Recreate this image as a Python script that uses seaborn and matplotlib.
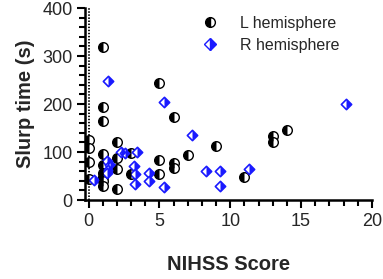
import numpy as np
import pandas as pd
import seaborn as sns
import matplotlib.pyplot as plt
from matplotlib.path import Path
from matplotlib.lines import Line2D
from matplotlib.ticker import MultipleLocator

# NIHSS score vs slurp time, per hemisphere
l_nihss = [0, 0, 0, 0, 1, 1, 1, 1, 1, 1, 1, 1, 1, 2, 2, 2, 2, 3, 3,
           5, 5, 5, 6, 6, 6, 7, 9, 11, 13, 13, 14]
l_slurp = [125, 109, 79, 43, 319, 194, 165, 95, 74, 56, 49, 40, 30, 121, 88, 65, 22, 99, 54,
           244, 84, 54, 173, 78, 67, 94, 112, 47, 133, 121, 145]
r_nihss = [0.4, 1.4, 1.3, 1.5, 1.4, 1.3, 2.3, 2.6, 3.4, 3.2, 3.3, 3.3,
           4.3, 4.3, 5.3, 5.3, 7.3, 8.3, 9.3, 9.3, 11.3, 18.2]
r_slurp = [42, 249, 81, 74, 63, 56, 101, 97, 101, 71, 54, 34,
           56, 40, 205, 27, 135, 60, 60, 30, 65, 200]

df = pd.concat([
    pd.DataFrame({"nihss": l_nihss, "slurp": l_slurp, "side": "L hemisphere"}),
    pd.DataFrame({"nihss": r_nihss, "slurp": r_slurp, "side": "R hemisphere"}),
])

sns.set_theme(style="ticks")
plt.rcParams["font.family"] = ["Liberation Sans", "DejaVu Sans"]

# half markers (one half filled, other half white)
circ_full = Path.unit_circle()
circ_half = Path.wedge(90, 270)
dia_full = Path([(0, 1), (1, 0), (0, -1), (-1, 0), (0, 1)], closed=True)
dia_half = Path([(0, 1), (1, 0), (0, -1), (0, 1)], closed=True)

fig = plt.figure(figsize=(3.83, 2.79), dpi=100)
ax = fig.add_axes([0.222, 0.283, 0.749, 0.688])

ax.axvline(0, color="black", ls=(0, (0.8, 0.9)), lw=1.3, zorder=1)

L = df[df.side == "L hemisphere"]
R = df[df.side == "R hemisphere"]
sns.scatterplot(data=L, x="nihss", y="slurp", marker=circ_full, s=48,
                facecolor="white", edgecolor="black", linewidth=1.0, ax=ax, zorder=3)
sns.scatterplot(data=L, x="nihss", y="slurp", marker=circ_half, s=48,
                color="black", linewidth=0, ax=ax, zorder=4)
sns.scatterplot(data=R, x="nihss", y="slurp", marker=dia_full, s=55,
                facecolor="white", edgecolor="#1a1aff", linewidth=1.2, ax=ax, zorder=3)
sns.scatterplot(data=R, x="nihss", y="slurp", marker=dia_half, s=55,
                color="#1a1aff", linewidth=0, ax=ax, zorder=4)

ax.set_xlim(-0.25, 20)
ax.set_ylim(0, 400)
ax.xaxis.set_major_locator(MultipleLocator(5))
ax.xaxis.set_minor_locator(MultipleLocator(1))
ax.yaxis.set_major_locator(MultipleLocator(100))
ax.yaxis.set_minor_locator(MultipleLocator(20))
ax.tick_params(which="major", length=6, width=1.5, labelsize=13, color="black", pad=3)
ax.tick_params(which="minor", length=4, width=1.5, color="black")
for s in ["top", "right"]:
    ax.spines[s].set_visible(False)
for s in ["left", "bottom"]:
    ax.spines[s].set_linewidth(1.8)
    ax.spines[s].set_color("black")

ax.set_xlabel("NIHSS Score", fontsize=14.5, fontweight="bold", labelpad=18)
ax.set_ylabel("Slurp time (s)", fontsize=14.5, fontweight="bold", labelpad=5)

handles = [
    Line2D([], [], ls="none", marker="o", ms=7, fillstyle="left", color="black",
           markerfacecoloralt="white", markeredgecolor="black"),
    Line2D([], [], ls="none", marker="D", ms=6, fillstyle="right", color="#1a1aff",
           markerfacecoloralt="white", markeredgecolor="#1a1aff"),
]
ax.legend(handles, ["L hemisphere", "R hemisphere"], loc="upper left",
          bbox_to_anchor=(0.33, 1.035), frameon=False, fontsize=11.5,
          handletextpad=0.9, labelspacing=0.45)

fig.savefig("out.png", dpi=100)
